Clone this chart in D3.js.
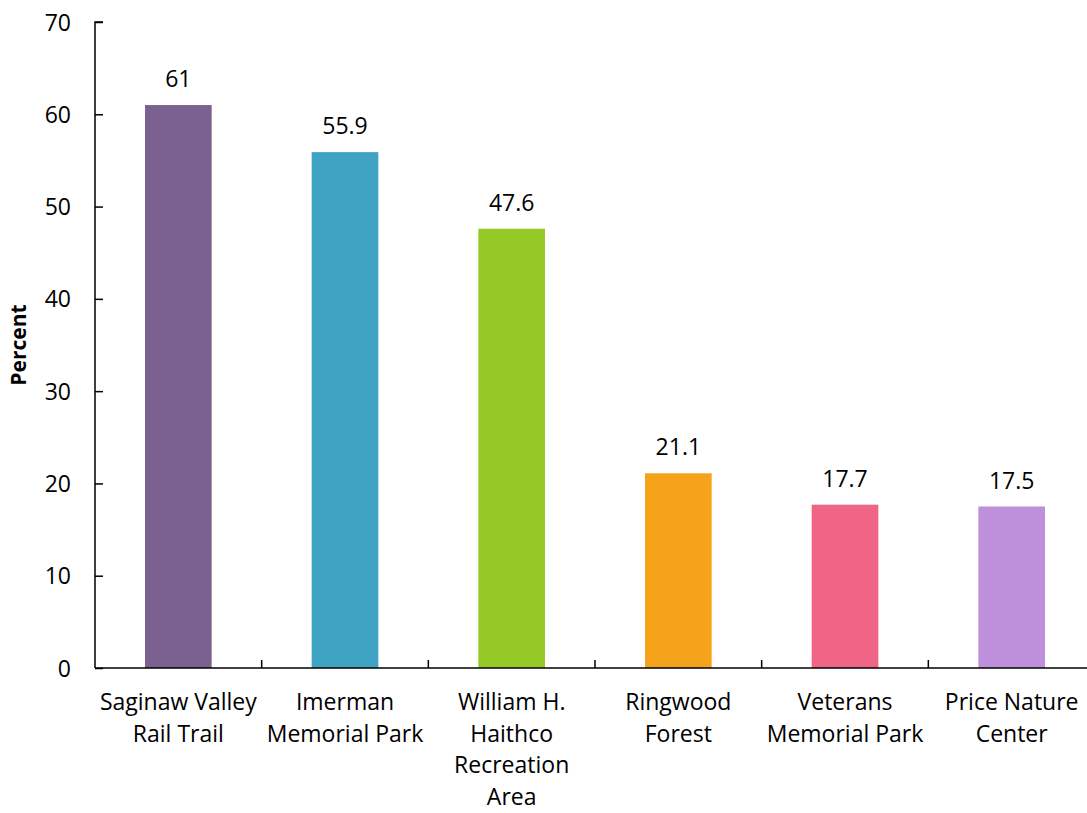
<!DOCTYPE html>
<html>
<head>
<meta charset="utf-8">
<script src="https://cdn.jsdelivr.net/npm/d3@7"></script>
<style>
  body { margin: 0; background: #fff; overflow: hidden; }
  svg text { font-family: "Open Sans", sans-serif; fill: #000; }
</style>
</head>
<body>
<svg id="chart" width="1087" height="813"></svg>
<script>
// data
const categories = ["Saginaw Valley Rail Trail", "Imerman Memorial Park", "William H. Haithco Recreation Area",
                    "Ringwood Forest", "Veterans Memorial Park", "Price Nature Center"];
const labelLines = [
    ["Saginaw Valley", "Rail Trail"],
    ["Imerman", "Memorial Park"],
    ["William H.", "Haithco", "Recreation", "Area"],
    ["Ringwood", "Forest"],
    ["Veterans", "Memorial Park"],
    ["Price Nature", "Center"]
];
const values = [61, 55.9, 47.6, 21.1, 17.7, 17.5];
const colors = ["#7b6190", "#3fa3c3", "#96c828", "#f5a31a", "#f06585", "#be8fdb"];
const yTicks = [0, 10, 20, 30, 40, 50, 60, 70];

const fontSize = "23px";

const svg = d3.select("#chart");
// plot runs a bit past the right edge, like the original
const margin = { top: 22, right: -8, bottom: 145, left: 95 };
const width = 1087 - margin.left - margin.right;
const height = 813 - margin.top - margin.bottom;

const g = svg.append("g").attr("transform", `translate(${margin.left},${margin.top})`);

const x = d3.scaleBand().domain(categories).range([0, width]).paddingInner(0.6).paddingOuter(0.3);
const y = d3.scaleLinear().domain([0, 70]).range([height, 0]);

// bars
g.selectAll(".bar")
    .data(values)
    .join("rect")
    .attr("class", "bar")
    .attr("x", (d, i) => x(categories[i]))
    .attr("y", d => y(d))
    .attr("width", x.bandwidth())
    .attr("height", d => height - y(d))
    .attr("fill", (d, i) => colors[i]);

// value labels
g.selectAll(".val")
    .data(values)
    .join("text")
    .attr("class", "val")
    .attr("x", (d, i) => x(categories[i]) + x.bandwidth() / 2)
    .attr("y", d => y(d) - 18)
    .attr("text-anchor", "middle")
    .style("font-size", fontSize)
    .text(d => d);

// y axis, ticks pointing inward
const yAxis = g.append("g")
    .call(d3.axisLeft(y).tickValues(yTicks).tickSize(-8).tickPadding(24));
yAxis.selectAll("text").style("font-size", fontSize).attr("dy", "0.35em");
yAxis.selectAll("line, path").attr("stroke", "#000").attr("stroke-width", 1.5);
yAxis.select(".domain").attr("d", `M0,${height}V0H8`);

// x axis: line plus tick marks at band boundaries
const step = x.step();
const xAxis = g.append("g").attr("transform", `translate(0,${height})`);
xAxis.append("line")
    .attr("x1", 0).attr("x2", width)
    .attr("stroke", "#000").attr("stroke-width", 1.5);
xAxis.selectAll(".xt")
    .data(d3.range(1, categories.length))
    .join("line")
    .attr("class", "xt")
    .attr("x1", i => i * step).attr("x2", i => i * step)
    .attr("y1", 0).attr("y2", -8)
    .attr("stroke", "#000").attr("stroke-width", 1.5);

// category labels, wrapped
xAxis.selectAll(".cat")
    .data(labelLines)
    .join("text")
    .attr("class", "cat")
    .attr("text-anchor", "middle")
    .style("font-size", fontSize)
    .attr("transform", (d, i) => `translate(${x(categories[i]) + x.bandwidth() / 2},42)`)
    .selectAll("tspan")
    .data(d => d)
    .join("tspan")
    .attr("x", 0)
    .attr("dy", (d, j) => j === 0 ? 0 : 31.5)
    .text(d => d);

// y title
svg.append("text")
    .attr("transform", `translate(26,${margin.top + height / 2}) rotate(-90)`)
    .attr("text-anchor", "middle")
    .style("font-size", "21px")
    .style("font-weight", "bold")
    .text("Percent");
</script>
</body>
</html>
